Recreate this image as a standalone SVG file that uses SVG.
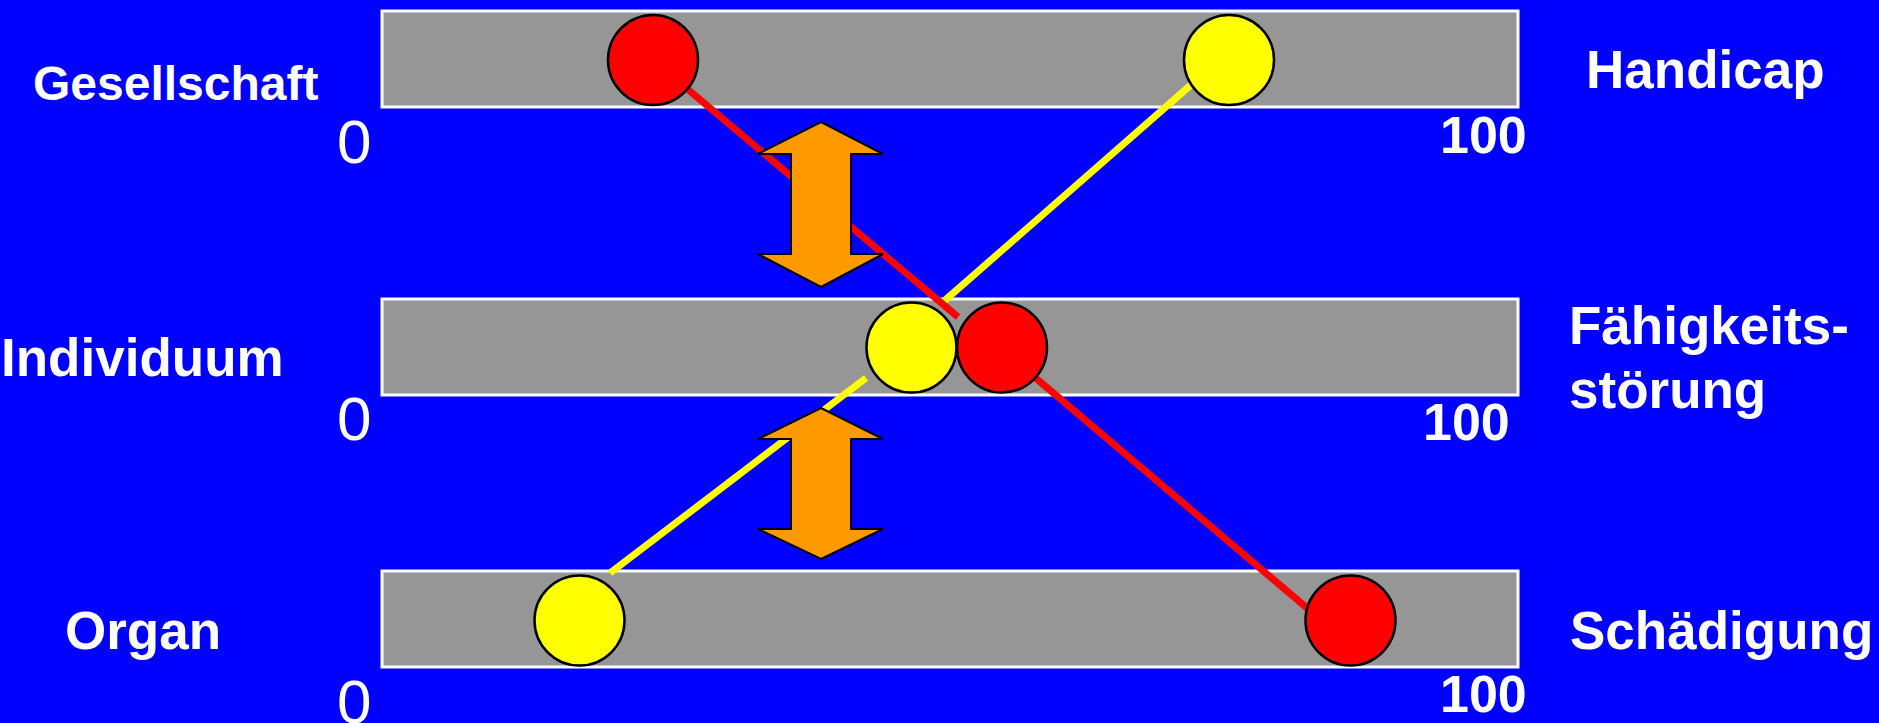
<svg xmlns="http://www.w3.org/2000/svg" width="1879" height="723" viewBox="0 0 1879 723">
<style>
.bar{fill:#969696;stroke:#ffffff;stroke-width:3}
.red{fill:#ff0000;stroke:#000000;stroke-width:2.5}
.yel{fill:#ffff00;stroke:#000000;stroke-width:2.5}
.lbl{font-family:"Liberation Sans",Arial,sans-serif;font-weight:bold;font-size:53px;fill:#ffffff}
.num{font-family:"Liberation Sans",Arial,sans-serif;font-weight:bold;font-size:52px;fill:#ffffff}
.zero{font-family:"Liberation Sans",Arial,sans-serif;font-weight:normal;font-size:62px;fill:#ffffff}
.arr{fill:#ff9900;stroke:#000000;stroke-width:2;stroke-linejoin:miter}
.rl{stroke:#ff0000;stroke-width:7;fill:none}
.yl{stroke:#ffff00;stroke-width:7;fill:none}
</style>
<rect x="0" y="0" width="1879" height="723" fill="#0000ff"/>
<g id="bar-gesellschaft"><rect class="bar" x="382" y="11" width="1136" height="96"/></g>
<g id="bar-individuum"><rect class="bar" x="382" y="299" width="1136" height="96"/></g>
<g id="bar-organ"><rect class="bar" x="382" y="571" width="1136" height="96"/></g>
<g id="connectors">
<line class="yl" x1="1192" y1="84" x2="943" y2="302"/>
<line class="rl" x1="653" y1="60" x2="958" y2="317"/>
<line class="yl" x1="866" y1="378" x2="610" y2="573"/>
<line class="rl" x1="1025" y1="369" x2="1307" y2="608"/>
</g>
<g id="arrow-top"><polygon class="arr" points="821,122 883,154 851,154 851,254 883,254 821,287 758,254 791,254 791,154 758,154"/></g>
<g id="arrow-bottom"><polygon class="arr" points="821,408 883,439 851,439 851,529 883,529 821,559 758,529 791,529 791,439 758,439"/></g>
<g id="dot-red-top"><circle class="red" cx="653" cy="60" r="45"/></g>
<g id="dot-yellow-top"><circle class="yel" cx="1229" cy="60" r="45"/></g>
<g id="dot-yellow-mid"><circle class="yel" cx="911.5" cy="347.5" r="45"/></g>
<g id="dot-red-mid"><circle class="red" cx="1002" cy="347.5" r="45"/></g>
<g id="dot-yellow-bot"><circle class="yel" cx="579.5" cy="620.5" r="45"/></g>
<g id="dot-red-bot"><circle class="red" cx="1350.5" cy="620.5" r="45"/></g>
<g id="labels">
<text class="lbl" x="33" y="100" style="font-size:48px">Gesellschaft</text>
<text class="lbl" x="1" y="376">Individuum</text>
<text class="lbl" x="65" y="649">Organ</text>
<text class="lbl" x="1586" y="88">Handicap</text>
<text class="lbl" x="1569" y="344">Fähigkeits-</text>
<text class="lbl" x="1569" y="408">störung</text>
<text class="lbl" x="1570" y="649">Schädigung</text>
<text class="zero" x="337" y="163">0</text>
<text class="zero" x="337" y="440">0</text>
<text class="zero" x="337" y="723">0</text>
<text class="num" x="1440" y="153">100</text>
<text class="num" x="1423" y="440">100</text>
<text class="num" x="1440" y="712">100</text>
</g>
</svg>
